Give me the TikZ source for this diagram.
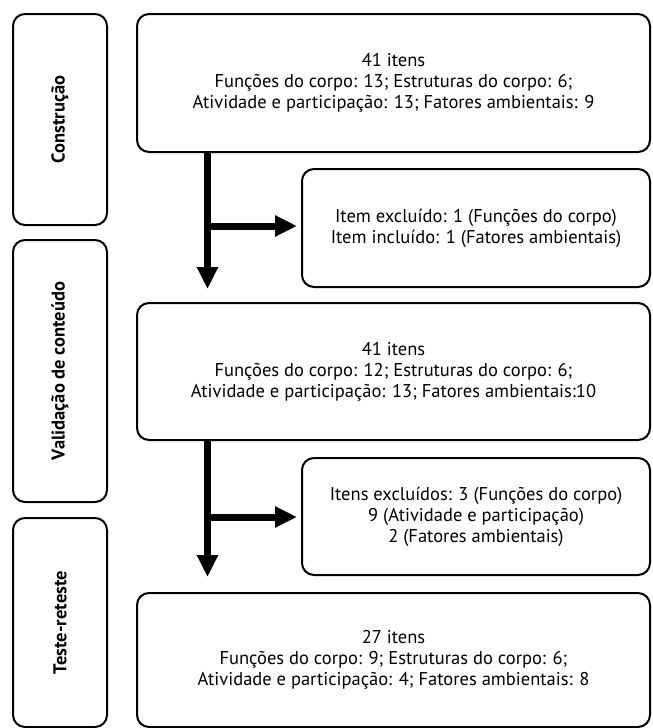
\documentclass[tikz,border=0pt]{standalone}
\usepackage{fontspec}
\setmainfont{PT Sans}
\usetikzlibrary{arrows.meta}
\begin{document}
\begin{tikzpicture}[x=1pt,y=-1pt,
  box/.style={draw, line width=2pt, rounded corners=12pt, inner sep=0pt},
  txt/.style={align=center, font=\fontsize{18.5}{21}\selectfont},
  side/.style={box, rotate=90, font=\bfseries\fontsize{18.5}{21}\selectfont},
  flow/.style={line width=7pt, -{Triangle[length=22pt,width=20pt]}}]
\useasboundingbox (0,0) rectangle (653,728);
\clip (0,0) rectangle (653,728);
% side stage boxes
\node[side, minimum width=211pt, minimum height=94pt] (s1) at (60,119.5) {Construção};
\node[side, minimum width=262pt, minimum height=94pt] (s2) at (60,371) {Validação de conteúdo};
\node[side, minimum width=209pt, minimum height=94pt] (s3) at (60,622.5) {Teste-reteste};
% main boxes
\node[box, txt, minimum width=513pt, minimum height=138pt] (b1) at (393.5,83) {41 itens\\Funções do corpo: 13; Estruturas do corpo: 6;\\Atividade e participação: 13; Fatores ambientais: 9};
\node[box, txt, minimum width=348pt, minimum height=118pt] (b2) at (476,228) {Item excluído: 1 (Funções do corpo)\\Item incluído: 1 (Fatores ambientais)};
\node[box, txt, minimum width=513pt, minimum height=137pt] (b3) at (393.5,371.5) {41 itens\\Funções do corpo: 12; Estruturas do corpo: 6;\\Atividade e participação: 13; Fatores ambientais:10};
\node[box, txt, minimum width=348pt, minimum height=117pt] (b4) at (476,516.5) {Itens excluídos: 3 (Funções do corpo)\\9 (Atividade e participação)\\2 (Fatores ambientais)};
\node[box, txt, minimum width=513pt, minimum height=134pt] (b5) at (393.5,660) {27 itens\\Funções do corpo: 9; Estruturas do corpo: 6;\\Atividade e participação: 4; Fatores ambientais: 8};
% branch points
\coordinate (j1) at (207.5,226);
\coordinate (j2) at (207.5,517);
% connectors
\draw[flow, shorten >=4pt] (j1) -- (j1 -| b2.west);
\draw[flow, shorten >=13pt] (b1.south -| j1) -- (b3.north -| j1);
\draw[flow, shorten >=4pt] (j2) -- (j2 -| b4.west);
\draw[flow, shorten >=15pt] (b3.south -| j2) -- (b5.north -| j2);
\end{tikzpicture}
\end{document}
